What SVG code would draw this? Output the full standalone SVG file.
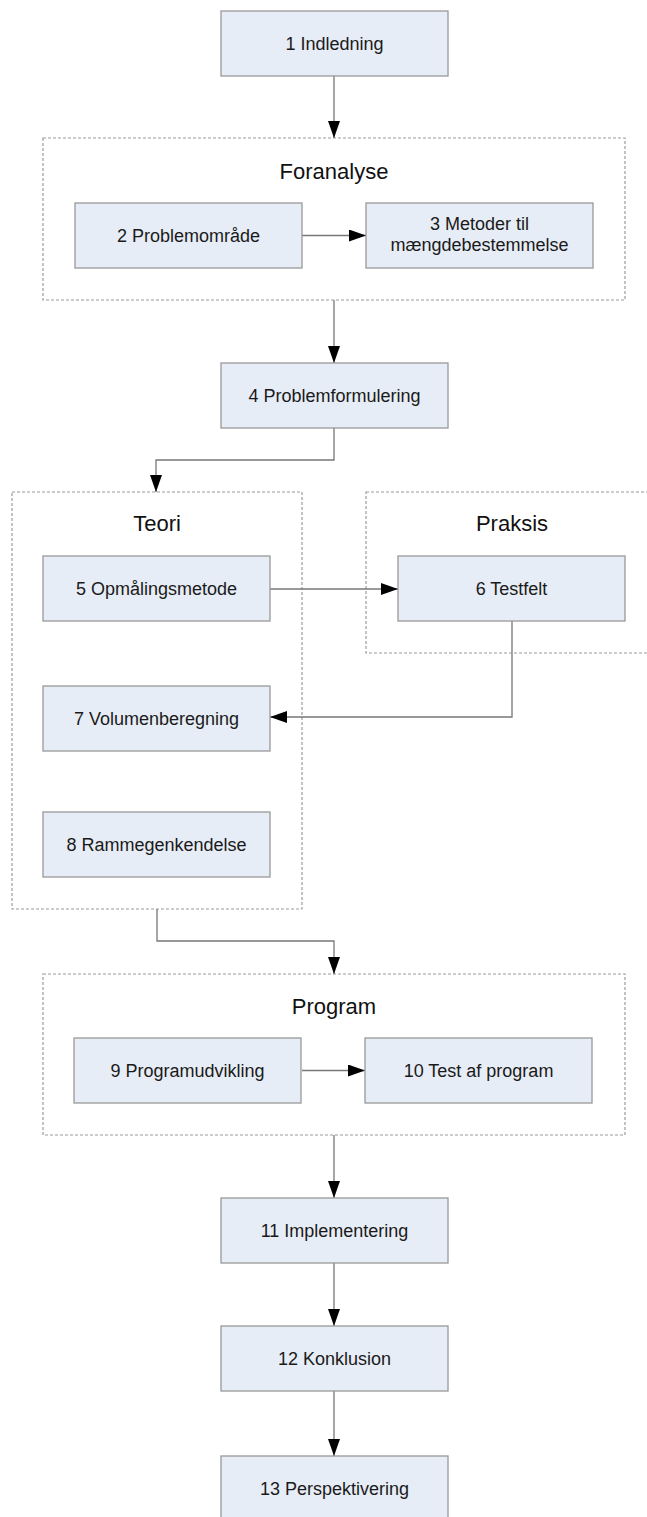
<svg xmlns="http://www.w3.org/2000/svg" width="647" height="1517" viewBox="0 0 647 1517">
<style>
.box{fill:#e7edf6;stroke:#999;stroke-width:1.3}
.grp{fill:none;stroke:#9c9c9c;stroke-width:1.2;stroke-dasharray:3 2}
.lbl{font-family:"Liberation Sans",Arial,sans-serif;font-size:18px;fill:#1a1a1a;text-anchor:middle}
.ttl{font-family:"Liberation Sans",Arial,sans-serif;font-size:22px;fill:#111;text-anchor:middle}
.con{fill:none;stroke:#777;stroke-width:1.3}
</style>
<defs>
<marker id="arr" markerUnits="userSpaceOnUse" markerWidth="17" markerHeight="12" refX="17" refY="6" orient="auto">
<path d="M0,0 L17,6 L0,12 Z" fill="#000"/>
</marker>
</defs>
<rect width="647" height="1517" fill="#fff"/>
<g id="group-foranalyse"><rect class="grp" x="43" y="138" width="582" height="162"/><text class="ttl" x="334" y="179">Foranalyse</text></g>
<g id="group-teori"><rect class="grp" x="12" y="492" width="290" height="417"/><text class="ttl" x="157" y="531">Teori</text></g>
<g id="group-praksis"><rect class="grp" x="366" y="492" width="300" height="161"/><text class="ttl" x="512" y="531">Praksis</text></g>
<g id="group-program"><rect class="grp" x="43" y="974" width="582" height="161"/><text class="ttl" x="334" y="1014">Program</text></g>
<g id="connectors">
<path class="con" marker-end="url(#arr)" d="M334,76 V138"/>
<path class="con" marker-end="url(#arr)" d="M302,235.5 H366"/>
<path class="con" marker-end="url(#arr)" d="M334,300 V363"/>
<path class="con" marker-end="url(#arr)" d="M334,428 V460 H156 V492"/>
<path class="con" marker-end="url(#arr)" d="M270,589 H398"/>
<path class="con" marker-end="url(#arr)" d="M512,621 V717 H270"/>
<path class="con" marker-end="url(#arr)" d="M157,909 V941 H334 V974"/>
<path class="con" marker-end="url(#arr)" d="M302,1070.5 H365"/>
<path class="con" marker-end="url(#arr)" d="M334,1135 V1198"/>
<path class="con" marker-end="url(#arr)" d="M334,1263 V1326"/>
<path class="con" marker-end="url(#arr)" d="M334,1391 V1456"/>
</g>
<g id="n1"><rect class="box" x="221" y="11" width="227" height="65"/><text class="lbl" x="334.5" y="49.5">1 Indledning</text></g>
<g id="n2"><rect class="box" x="75" y="203" width="227" height="65"/><text class="lbl" x="188.5" y="242">2 Problemområde</text></g>
<g id="n3"><rect class="box" x="366" y="203" width="227" height="65"/><text class="lbl" x="479.5" y="230">3 Metoder til</text><text class="lbl" x="479.5" y="251">mængdebestemmelse</text></g>
<g id="n4"><rect class="box" x="221" y="363" width="227" height="65"/><text class="lbl" x="334.5" y="402">4 Problemformulering</text></g>
<g id="n5"><rect class="box" x="43" y="556" width="227" height="65"/><text class="lbl" x="156.5" y="595">5 Opmålingsmetode</text></g>
<g id="n6"><rect class="box" x="398" y="556" width="227" height="65"/><text class="lbl" x="511.5" y="595">6 Testfelt</text></g>
<g id="n7"><rect class="box" x="43" y="686" width="227" height="65"/><text class="lbl" x="156.5" y="724.5">7 Volumenberegning</text></g>
<g id="n8"><rect class="box" x="43" y="812" width="227" height="65"/><text class="lbl" x="156.5" y="851">8 Rammegenkendelse</text></g>
<g id="n9"><rect class="box" x="74" y="1038" width="227" height="65"/><text class="lbl" x="187.5" y="1077">9 Programudvikling</text></g>
<g id="n10"><rect class="box" x="365" y="1038" width="227" height="65"/><text class="lbl" x="478.5" y="1077">10 Test af program</text></g>
<g id="n11"><rect class="box" x="221" y="1198" width="227" height="65"/><text class="lbl" x="334.5" y="1237">11 Implementering</text></g>
<g id="n12"><rect class="box" x="221" y="1326" width="227" height="65"/><text class="lbl" x="334.5" y="1365">12 Konklusion</text></g>
<g id="n13"><rect class="box" x="221" y="1456" width="227" height="65"/><text class="lbl" x="334.5" y="1495">13 Perspektivering</text></g>
</svg>
